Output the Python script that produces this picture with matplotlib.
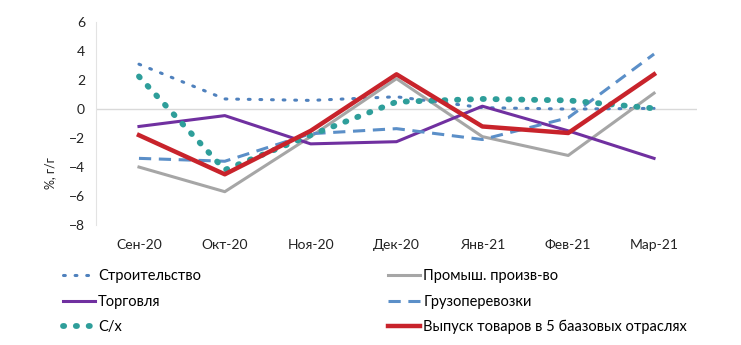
import numpy as np
import matplotlib.pyplot as plt

# Monthly data, % y/y
months = ['Сен-20', 'Окт-20', 'Ноя-20', 'Дек-20', 'Янв-21', 'Фев-21', 'Мар-21']
construction = [3.1, 0.7, 0.6, 0.85, 0.1, 0.0, 0.05]
industry = [-4.0, -5.7, -1.9, 2.1, -1.9, -3.2, 1.1]
trade = [-1.2, -0.45, -2.4, -2.25, 0.2, -1.5, -3.4]
freight = [-3.4, -3.6, -1.7, -1.35, -2.1, -0.6, 3.8]
agriculture = [2.25, -4.2, -1.8, 0.5, 0.7, 0.6, 0.05]
output5 = [-1.8, -4.5, -1.5, 2.4, -1.2, -1.65, 2.4]

plt.rcParams['font.family'] = ['Lato', 'DejaVu Sans']

fig = plt.figure(figsize=(7.41, 3.45), dpi=100)
ax = fig.add_axes([0.1296, 0.3478, 0.811, 0.588])

x = np.arange(len(months))

l1, = ax.plot(x, construction, color='#4F81BD', lw=2.2, linestyle=(0, (0.6, 3.2)),
              dash_capstyle='round', label='Строительство')
l2, = ax.plot(x, industry, color='#A6A6A6', lw=2.2, label='Промыш. произв-во')
l3, = ax.plot(x, trade, color='#7030A0', lw=2.2, label='Торговля')
l4, = ax.plot(x, freight, color='#5B8FC8', lw=2.2, linestyle=(0, (4, 2.5)),
              label='Грузоперевозки')
l5, = ax.plot(x, agriculture, color='#2E9E9A', lw=4.2, linestyle=(0, (0.2, 2.0)),
              dash_capstyle='round', label='С/х')
l6, = ax.plot(x, output5, color='#C8232B', lw=3.2, label='Выпуск товаров в 5 баазовых отраслях')

ax.axhline(0, color='#D9D9D9', lw=1, zorder=0)

ax.set_xlim(-0.5, 6.5)
ax.set_ylim(-8, 6)
ax.set_yticks(np.arange(-8, 7, 2))
ax.set_xticks(x)
ax.set_xticklabels(months)
ax.tick_params(length=0, labelsize=10, colors='#222222')
ax.tick_params(axis='x', pad=10)
ax.tick_params(axis='y', pad=8)

for s in ['top', 'right', 'bottom']:
    ax.spines[s].set_visible(False)
ax.spines['left'].set_color('#E3E3E3')

fig.text(50 / 741, 1 - 173 / 345, '%, г/г', rotation=90, ha='center', va='center',
         fontsize=9, color='#222222')

# legend: two separate columns
leg_kw = dict(loc='upper left', frameon=False, fontsize=10.5,
              handlelength=2.2, handletextpad=0.2, labelspacing=0.77,
              borderaxespad=0)
fig.legend(handles=[l1, l3, l5], bbox_to_anchor=(0.077, 0.236), **leg_kw)
fig.legend(handles=[l2, l4, l6], bbox_to_anchor=(0.516, 0.236), **leg_kw)

fig.savefig('out.png', dpi=100)
